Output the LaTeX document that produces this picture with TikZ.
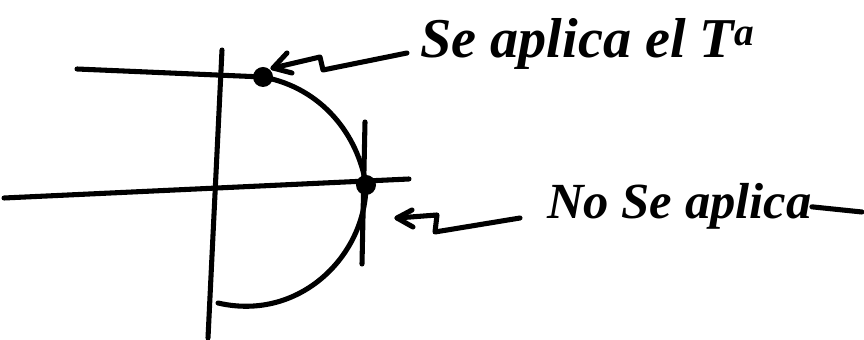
\documentclass[tikz,border=0pt]{standalone}
\usepackage{fontspec}
\setmainfont{Liberation Serif}
\usepackage{tikz}
\usetikzlibrary{arrows,positioning,calc}
\tikzset{
  ink/.style={line width=3.6pt,line cap=round,line join=round},
  lbl/.style={font=\bfseries\itshape,inner sep=0pt,anchor=base west},
  dot/.style={circle,fill=black,inner sep=0pt,minimum size=0.5cm},
}
\begin{document}
\begin{tikzpicture}[x=0.025cm,y=-0.025cm]
  \useasboundingbox (0,0) rectangle (864,340);
  % axes
  \coordinate (h1a) at (77,69);
  \coordinate (h1b) at (263,77);
  \coordinate (h2a) at (4,198);
  \coordinate (h2b) at (409,179);
  \coordinate (v1a) at (222,50);
  \coordinate (v1b) at (208,338);
  \coordinate (v2a) at (365,122);
  \coordinate (v2b) at (362,264);
  \draw[ink] (h1a) -- (h1b);
  \draw[ink] (h2a) -- (h2b);
  \draw[ink] (v1a) -- (v1b);
  \draw[ink] (v2a) -- (v2b);
  % points
  \node[dot] (p1) at (263,77) {};
  \node[dot] (p2) at (366,185) {};
  % curve
  \coordinate (c0) at (218,303);
  \draw[ink] (p1.center) .. controls (322,88) and (358,135) .. (p2.center)
    .. controls (366,255) and (300,322) .. (c0);
  % labels
  \node[lbl,font=\bfseries\itshape\fontsize{40}{40}\selectfont] (l1) at (420,58) {Se aplica el T\textsuperscript{a}};
  \node[lbl,font=\bfseries\itshape\fontsize{36}{36}\selectfont] (l2) at (547,219) {No Se aplica};
  % tail of the second label
  \coordinate (t2) at (862,212);
  \draw[ink] (l2.east) -- (t2);
  % hand drawn arrows
  \coordinate (e1) at (407,53);
  \coordinate (k1) at (323,70);
  \coordinate (m1) at (320,57);
  \coordinate (a1) at (273,68);
  \coordinate (b1) at (287,53);
  \coordinate (d1) at (292,73);
  \draw[ink] (e1) -- (k1) -- (m1) -- (a1);
  \draw[ink] (b1) -- (a1) -- (d1);
  \coordinate (e2) at (520,218);
  \coordinate (k2) at (435,232);
  \coordinate (m2) at (437,215);
  \coordinate (a2) at (397,218);
  \coordinate (b2) at (412,210);
  \coordinate (d2) at (413,227);
  \draw[ink] (e2) -- (k2) -- (m2) -- (a2);
  \draw[ink] (b2) -- (a2) -- (d2);
\end{tikzpicture}
\end{document}
